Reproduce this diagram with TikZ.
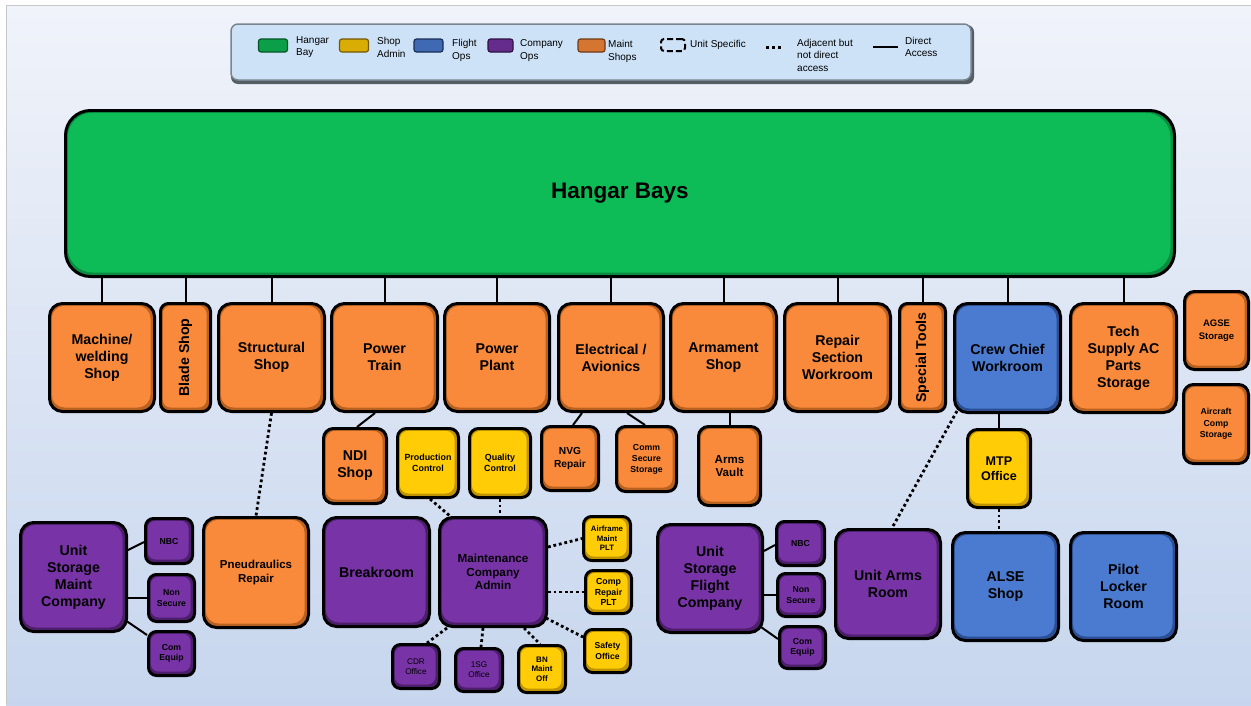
\documentclass[tikz,border=0pt]{standalone}
\usepackage{fontspec}
\setmainfont{Liberation Sans}
\usetikzlibrary{calc}
\pgfdeclarelayer{bgl}
\pgfdeclarelayer{lines}
\pgfsetlayers{bgl,lines,main}

\definecolor{org}{HTML}{FA8A3B}
\definecolor{orgD}{HTML}{B9611F}
\definecolor{grn}{HTML}{0DBB57}
\definecolor{grnD}{HTML}{0A8C40}
\definecolor{ylw}{HTML}{FFCC05}
\definecolor{ylwD}{HTML}{C09400}
\definecolor{pur}{HTML}{7834A6}
\definecolor{purD}{HTML}{4C1E6C}
\definecolor{blu}{HTML}{4A7BD1}
\definecolor{bluD}{HTML}{2C4F93}
\definecolor{bgtop}{HTML}{F0F3FA}
\definecolor{bgmid}{HTML}{B6C9E7}
\definecolor{bgbot}{HTML}{C7D6EE}
\definecolor{legfill}{HTML}{CDE2F7}
\definecolor{legedge}{HTML}{7A8591}

\tikzset{
  room/.style 2 args={rectangle, rounded corners=#2, draw=black, line width=3pt,
    fill=#1D, inner sep=0pt, text=black, align=center,
    path picture={\fill[#1, rounded corners=#2]
      ([shift={(2.2pt,-2.2pt)}]path picture bounding box.north west) rectangle
      ([shift={(-4pt,4pt)}]path picture bounding box.south east);}},
  wh/.style 2 args={minimum width=#1pt, minimum height=#2pt},
  fs/.style 2 args={font=\fontsize{#1}{#2}\selectfont\bfseries},
  big/.style={fs={14.2}{17}},
  sw/.style={rectangle, rounded corners=2.5pt, minimum width=29pt, minimum height=13pt,
    inner sep=0pt, fill=#1!85!black, draw=#1D!60!black, line width=1.2pt},
  legtxt/.style={anchor=west, inner sep=0pt, align=left, font=\fontsize{10}{12.5}\selectfont},
  direct/.style={draw=black, line width=2pt},
  adj/.style={draw=black, line width=2.8pt, dash pattern=on 2.8pt off 2.8pt}
}

\begin{document}
\begin{tikzpicture}[x=1pt,y=-1pt]
\useasboundingbox (0,0) rectangle (1251,705);
\begin{pgfonlayer}{bgl}
  \fill[white] (0,0) rectangle (1251,705);
  \shade[top color=bgtop, middle color=bgmid, bottom color=bgbot] (6,5) rectangle (1251,705);
  \draw[line width=1pt, draw=black!22] (6,705) -- (6,5) -- (1251,5);
\end{pgfonlayer}

% ---------- legend ----------
\fill[legedge!70!black, rounded corners=7pt] (231,25) rectangle (974,84);
\node[draw=legedge, line width=1.5pt, fill=legfill, rounded corners=7pt,
      minimum width=740pt, minimum height=56pt, inner sep=0pt] (legend) at (601,52) {};
\node[sw=grn] (swg) at (273,45.5) {};
\node[legtxt] (tg) at (296,47) {Hangar\\Bay};
\node[sw=ylw] (swy) at (354,45.5) {};
\node[legtxt] (ty) at (377,47.5) {Shop\\Admin};
\node[sw=blu] (swb) at (428.5,45.5) {};
\node[legtxt] (tb) at (452,50.5) {Flight\\Ops};
\node[sw=pur, minimum width=25pt] (swp) at (500.5,45.5) {};
\node[legtxt] (tp) at (520,50.5) {Company\\Ops};
\node[sw=org, minimum width=27pt] (swo) at (591.5,45.5) {};
\node[legtxt] (to) at (608,51.5) {Maint\\Shops};
\node[draw=black, line width=2pt, dash pattern=on 6pt off 3pt, rounded corners=3pt,
      minimum width=24pt, minimum height=12pt, inner sep=0pt] (swd) at (673,45) {};
\node[legtxt] (td) at (690,45) {Unit Specific};
\coordinate (dota) at (766,47);
\coordinate (dotb) at (782,47);
\draw[draw=black, line width=3pt, dash pattern=on 3pt off 3pt] (dota) -- (dotb);
\node[legtxt] (ta) at (797,55) {Adjacent but\\not direct\\access};
\coordinate (lina) at (873,47);
\coordinate (linb) at (898,47);
\draw[draw=black, line width=2.5pt] (lina) -- (linb);
\node[legtxt] (tx) at (905,47) {Direct\\Access};

% ---------- hangar ----------
\node[room={grn}{25pt}, wh={1109}{166}, font=\fontsize{22.5}{27}\selectfont\bfseries] (hb) at (620,193.5) {Hangar Bays};

% ---------- top row ----------
\node[room={org}{13pt}, wh={105}{108}, big] (mw) at (102,357.5) {Machine/\\welding\\Shop};
\node[room={org}{8pt}, wh={50}{108}] (blade) at (185.5,357.5) {};
\node[rotate=90, big, inner sep=0pt] (bladet) at (blade.center) {Blade Shop};
\node[room={org}{13pt}, wh={106}{108}, big] (struct) at (271.5,357.5) {Structural\\Shop};
\node[room={org}{13pt}, wh={106}{108}, big] (ptrain) at (384.5,357.5) {Power\\Train};
\node[room={org}{13pt}, wh={105}{108}, big] (pplant) at (497,357.5) {Power\\Plant};
\node[room={org}{13pt}, wh={105}{108}, big] (elec) at (611,357.5) {Electrical /\\Avionics};
\node[room={org}{13pt}, wh={106}{108}, big] (arm) at (723.5,357.5) {Armament\\Shop};
\node[room={org}{13pt}, wh={106}{108}, big] (repair) at (837.5,357.5) {Repair\\Section\\Workroom};
\node[room={org}{8pt}, wh={46}{108}] (spec) at (922.5,357.5) {};
\node[rotate=90, big, inner sep=0pt] (spect) at (spec.center) {Special Tools};
\node[room={blu}{13pt}, wh={106}{109}, big] (crew) at (1007.5,358) {Crew Chief\\Workroom};
\node[room={org}{13pt}, wh={106}{109}, big] (tech) at (1123.5,358) {Tech\\Supply AC\\Parts\\Storage};
\node[room={org}{10pt}, wh={64}{78}, fs={9.5}{12.5}] (agse) at (1216.5,330.5) {AGSE\\Storage};
\node[room={org}{10pt}, wh={65}{79}, fs={8.7}{11.5}] (accomp) at (1216,424) {Aircraft\\Comp\\Storage};

% ---------- second row ----------
\node[room={org}{10pt}, wh={63}{75}, big] (ndi) at (355,466) {NDI\\Shop};
\node[room={ylw}{9pt}, wh={61}{69}, fs={8.9}{10.8}] (prod) at (428,463) {Production\\Control};
\node[room={ylw}{9pt}, wh={61}{69}, fs={8.9}{10.8}] (qc) at (500,463) {Quality\\Control};
\node[room={org}{9pt}, wh={57}{64}, fs={10.2}{12.3}] (nvg) at (570,458.5) {NVG\\Repair};
\node[room={org}{9pt}, wh={60}{65}, fs={8.7}{11}] (comm) at (646.5,459) {Comm\\Secure\\Storage};
\node[room={org}{10pt}, wh={62}{79}, fs={11.6}{13.7}] (vault) at (729.5,466) {Arms\\Vault};
\node[room={ylw}{10pt}, wh={63}{78}, fs={12.6}{15}] (mtp) at (999,468.5) {MTP\\Office};

% ---------- bottom left group ----------
\node[room={pur}{13pt}, wh={106}{109}, big] (usmc) at (73.5,577) {Unit\\Storage\\Maint\\Company};
\node[room={pur}{8pt}, wh={47}{45}, fs={8.7}{10.7}] (nbc1) at (169,541) {NBC};
\node[room={pur}{8pt}, wh={46}{47}, fs={8.7}{10.7}] (ns1) at (171.5,598) {Non\\Secure};
\node[room={pur}{8pt}, wh={46}{44}, fs={8.7}{10.5}] (ce1) at (171.5,653.5) {Com\\Equip};
\node[room={org}{13pt}, wh={105}{110}, fs={11.5}{13.8}] (pneu) at (256,572.5) {Pneudraulics\\Repair};

% ---------- maintenance company group ----------
\node[room={pur}{13pt}, wh={106}{109}, big] (brk) at (376.5,572) {Breakroom};
\node[room={pur}{13pt}, wh={107}{109}, fs={11.7}{13.4}] (mca) at (493,572) {Maintenance\\Company\\Admin};
\node[room={ylw}{8pt}, wh={47}{44}, fs={7.8}{9.6}] (afm) at (607,538.5) {Airframe\\Maint\\PLT};
\node[room={ylw}{8pt}, wh={46}{43}, fs={8.8}{10.6}] (crp) at (608.5,592) {Comp\\Repair\\PLT};
\node[room={ylw}{8pt}, wh={46}{43}, fs={8.6}{10.7}] (saf) at (607.5,651) {Safety\\Office};
\node[room={pur}{8pt}, wh={47}{44}, font=\fontsize{8.2}{10}\selectfont] (cdr) at (416,666.5) {CDR\\Office};
\node[room={pur}{8pt}, wh={47}{43}, font=\fontsize{8.2}{10}\selectfont] (sg) at (479,670) {1SG\\Office};
\node[room={ylw}{8pt}, wh={47}{47}, fs={8}{9.6}] (bn) at (542,669) {BN\\Maint\\Off};

% ---------- flight company group ----------
\node[room={pur}{13pt}, wh={105}{108}, big] (usfc) at (710,578.5) {Unit\\Storage\\Flight\\Company};
\node[room={pur}{8pt}, wh={48}{44}, fs={8.7}{10.7}] (nbc2) at (800.5,543.5) {NBC};
\node[room={pur}{8pt}, wh={47}{43}, fs={8.7}{10.7}] (ns2) at (801,595) {Non\\Secure};
\node[room={pur}{8pt}, wh={46}{42}, fs={8.7}{10.5}] (ce2) at (802.5,647.5) {Com\\Equip};
\node[room={pur}{13pt}, wh={105}{109}, big] (uar) at (888,584) {Unit Arms\\Room};
\node[room={blu}{13pt}, wh={106}{108}, big] (alse) at (1005.5,586.5) {ALSE\\Shop};
\node[room={blu}{13pt}, wh={106}{108}, big] (plr) at (1123.5,586.5) {Pilot\\Locker\\Room};

% ---------- connectors ----------
\begin{pgfonlayer}{lines}
  \foreach \n in {mw,blade,struct,ptrain,pplant,elec,arm,repair,spec,crew,tech}
    \draw[direct] (\n.north |- hb.south) -- (\n.north);
  \draw[direct] ([xshift=-9.5pt]ptrain.south) -- ([xshift=2pt]ndi.north);
  \draw[direct] ([xshift=-29pt]elec.south) -- ([xshift=3pt]nvg.north);
  \draw[direct] ([xshift=16pt]elec.south) -- ([xshift=-1.5pt]comm.north);
  \draw[direct] (vault.north |- arm.south) -- (vault.north);
  \draw[direct] (mtp.north |- crew.south) -- (mtp.north);
  \draw[direct] ([yshift=27pt]usmc.east) -- ([yshift=-1pt]nbc1.west);
  \draw[direct] (ns1.west -| usmc.east) -- (ns1.west);
  \draw[direct] ([xshift=-3pt,yshift=-43pt]usmc.east) -- ([yshift=18.5pt]ce1.west);
  \draw[direct] ([yshift=27.5pt]usfc.east) -- ([yshift=-1.5pt]nbc2.west);
  \draw[direct] (ns2.west -| usfc.east) -- (ns2.west);
  \draw[direct] ([xshift=-3pt,yshift=-48.5pt]usfc.east) -- ([yshift=8.5pt]ce2.west);
  % adjacent (dotted)
  \draw[adj] (struct.south) -- (pneu.north);
  \draw[adj] ([xshift=2pt]prod.south) -- ([xshift=-43pt]mca.north);
  \draw[adj] (qc.south) -- (qc.south |- mca.north);
  \draw[adj] ([yshift=25pt]mca.east) -- (afm.west);
  \draw[adj] (crp.west -| mca.east) -- (crp.west);
  \draw[adj] ([xshift=-2pt,yshift=-46pt]mca.east) -- ([yshift=14pt]saf.west);
  \draw[adj] ([xshift=-46pt]mca.south) -- ([xshift=11pt]cdr.north);
  \draw[adj] ([xshift=-10pt]mca.south) -- ([xshift=2pt]sg.north);
  \draw[adj] ([xshift=31pt]mca.south) -- ([xshift=-2pt]bn.north);
  \draw[adj] ([xshift=4pt,yshift=3pt]crew.south west) -- ([xshift=4pt]uar.north);
  \draw[adj] (mtp.south) -- (mtp.south |- alse.north);
\end{pgfonlayer}
\end{tikzpicture}
\end{document}
